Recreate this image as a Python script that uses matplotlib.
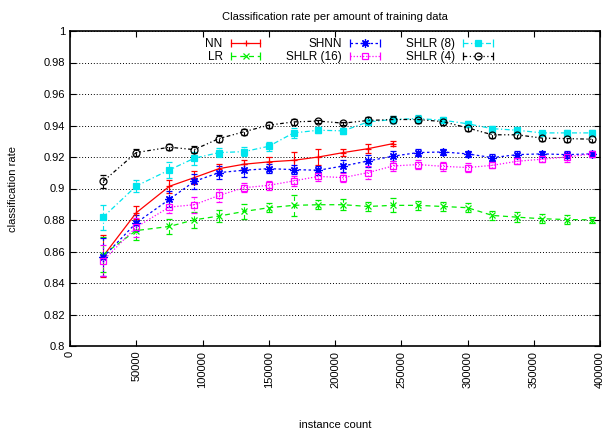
import matplotlib
matplotlib.use("Agg")
import matplotlib.pyplot as plt
from matplotlib.lines import Line2D
from matplotlib.legend_handler import HandlerLine2D, HandlerTuple

plt.rcParams.update({
    "font.family": ["Liberation Sans", "DejaVu Sans"],
    "font.size": 8,
})

# instance counts (x)
x_all = [25000, 50000, 75000, 93750, 112500, 131250, 150000, 168750, 187500,
         206250, 225000, 243750, 262500, 281250, 300000, 318750, 337500,
         356250, 375000, 393750]
x_nn = x_all[:12]

nn = [0.857, 0.8846, 0.9014, 0.9069, 0.9126, 0.9154, 0.9169, 0.9179, 0.920,
      0.9228, 0.9253, 0.9285]
nn_err = [0.0135, 0.004, 0.004, 0.004, 0.003, 0.003, 0.003, 0.005, 0.0048,
          0.002, 0.003, 0.0015]

lr = [0.858, 0.8733, 0.8759, 0.8801, 0.8825, 0.8854, 0.8878, 0.8893, 0.8897,
      0.8897, 0.8886, 0.8893, 0.8893, 0.8886, 0.8878, 0.8829, 0.8818, 0.8808,
      0.8803, 0.8801]
lr_err = [0.011, 0.006, 0.005, 0.005, 0.004, 0.005, 0.003, 0.0066, 0.003,
          0.0035, 0.003, 0.0045, 0.003, 0.003, 0.003, 0.003, 0.003, 0.003,
          0.003, 0.002]

shnn = [0.8564, 0.8782, 0.8931, 0.9045, 0.9101, 0.9116, 0.9126, 0.912, 0.9116,
        0.9143, 0.9175, 0.9205, 0.9228, 0.9232, 0.922, 0.9196, 0.9215, 0.922,
        0.9215, 0.922]
shnn_err = [0.012, 0.005, 0.005, 0.005, 0.004, 0.004, 0.003, 0.003, 0.003,
            0.004, 0.004, 0.003, 0.002, 0.002, 0.002, 0.002, 0.002, 0.002,
            0.002, 0.002]

shlr16 = [0.8542, 0.8755, 0.8882, 0.8897, 0.8956, 0.9005, 0.902, 0.9048, 0.9077,
          0.9069, 0.9101, 0.9143, 0.9152, 0.9141, 0.9133, 0.9147, 0.9173,
          0.9186, 0.920, 0.922]
shlr16_err = [0.01, 0.006, 0.004, 0.005, 0.004, 0.003, 0.003, 0.003, 0.003,
              0.003, 0.004, 0.003, 0.003, 0.003, 0.003, 0.002, 0.002, 0.002,
              0.003, 0.002]

shlr8 = [0.8818, 0.9016, 0.9118, 0.9192, 0.9228, 0.9234, 0.9268, 0.9353, 0.937,
         0.9366, 0.9423, 0.9438, 0.9444, 0.9434, 0.9411, 0.938, 0.937, 0.9353,
         0.9353, 0.9353]
shlr8_err = [0.008, 0.004, 0.005, 0.004, 0.003, 0.003, 0.003, 0.003, 0.002,
             0.002, 0.002, 0.002, 0.002, 0.002, 0.002, 0.002, 0.002, 0.001,
             0.002, 0.002]

shlr4 = [0.9045, 0.9228, 0.9262, 0.9247, 0.9317, 0.936, 0.9402, 0.9423, 0.9428,
         0.9415, 0.9432, 0.9438, 0.9438, 0.9425, 0.9385, 0.9341, 0.9341, 0.932,
         0.9317, 0.9313]
shlr4_err = [0.004, 0.002, 0.002, 0.002, 0.002, 0.002, 0.002, 0.002, 0.001,
             0.001, 0.002, 0.002, 0.002, 0.002, 0.002, 0.002, 0.002, 0.002,
             0.002, 0.002]

ASTERISK = (8, 2, 0)  # gnuplot's pt 3 (+ and x overlaid)

series = [
    ("NN", x_nn, nn, nn_err, "#ff0000", "-", "+", "#ff0000"),
    ("LR", x_all, lr, lr_err, "#00ee00", (0, (4, 3)), "x", "#00ee00"),
    ("SHNN", x_all, shnn, shnn_err, "#0000ff", (0, (2, 2)), ASTERISK, "#0000ff"),
    ("SHLR (16)", x_all, shlr16, shlr16_err, "#ff00ff", (0, (1, 1.5)), "s", "none"),
    ("SHLR (8)", x_all, shlr8, shlr8_err, "#00e5ee", (0, (4, 2, 1, 2)), "s", "#00e5ee"),
    ("SHLR (4)", x_all, shlr4, shlr4_err, "#000000", (0, (3, 2, 1, 2, 1, 2)), "o", "none"),
]

fig = plt.figure(figsize=(6.03, 4.32), dpi=100)
ax = fig.add_axes([70 / 603, 1 - 346 / 432, 530 / 603, 315 / 432])

handles, labels, hmap = [], [], {}
for label, xs, ys, es, col, ls, mk, mfc in series:
    ms = 6 if mk == ASTERISK else 5
    cont = ax.errorbar(xs, ys, yerr=es, color=col, linestyle=ls, linewidth=0.9,
                       marker=mk, markersize=ms,
                       markerfacecolor=mfc, markeredgecolor=col,
                       markeredgewidth=0.9, capsize=2.5, elinewidth=0.8)
    for bl in cont[2]:
        bl.set_linestyle(ls)
    # gnuplot-style key sample: line with end caps and a marker in the middle
    caps = Line2D([], [], color=col, linestyle=ls, linewidth=0.9, marker="|",
                  markersize=6, markeredgewidth=0.9)
    mid = Line2D([], [], color="none", marker=mk, markersize=ms,
                 markerfacecolor=mfc, markeredgecolor=col, markeredgewidth=0.9)
    hmap[caps] = HandlerLine2D(numpoints=2)
    hmap[mid] = HandlerLine2D(numpoints=1)
    handles.append((caps, mid))
    labels.append(label)

hmap[tuple] = HandlerTuple(ndivide=1)

ax.set_xlim(0, 400000)
ax.set_ylim(0.8, 1.0)
ax.set_xticks(range(0, 400001, 50000))
ax.set_xticklabels([str(v) for v in range(0, 400001, 50000)], rotation=90)
ax.set_yticks([0.8, 0.82, 0.84, 0.86, 0.88, 0.9, 0.92, 0.94, 0.96, 0.98, 1.0])
ax.set_yticklabels(["0.8", "0.82", "0.84", "0.86", "0.88", "0.9", "0.92",
                    "0.94", "0.96", "0.98", "1"])
ax.tick_params(direction="in", length=4, labelsize=8, top=True, right=True)
ax.grid(axis="y", color="black", linestyle=(0, (1, 2)), linewidth=0.7)
for s in ax.spines.values():
    s.set_linewidth(1.2)

ax.set_xlabel("instance count", fontsize=8)
ax.xaxis.set_label_coords(0.5, -0.235)
ax.set_ylabel("classification rate", fontsize=8)
ax.yaxis.set_label_coords(-0.098, 0.5)
ax.set_title("Classification rate per amount of training data", fontsize=8, pad=8)

ax.legend(handles, labels, handler_map=hmap, loc="upper center", ncol=3,
          frameon=False, markerfirst=False, fontsize=8.5, handlelength=3.1,
          handletextpad=0.4, columnspacing=1.9, labelspacing=0.1,
          borderaxespad=0.2, bbox_to_anchor=(0.53, 1.0))

fig.savefig("out.png", dpi=100)
